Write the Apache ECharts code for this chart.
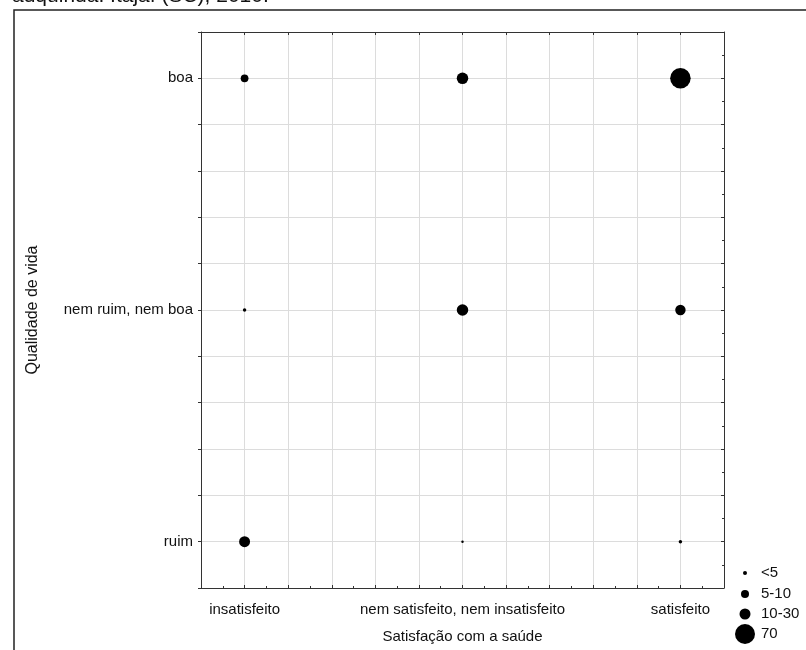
<!DOCTYPE html>
<html>
<head>
<meta charset="utf-8">
<script src="https://cdn.jsdelivr.net/npm/echarts@6/dist/echarts.min.js"></script>
<style>
html,body{margin:0;padding:0;background:#fff;}
#chart{width:806px;height:650px;}
</style>
</head>
<body>
<div id="chart"></div>
<script>
// Data
var xCategories = ['insatisfeito', 'nem satisfeito, nem insatisfeito', 'satisfeito'];
var yCategories = ['ruim', 'nem ruim, nem boa', 'boa'];
// counts per cell: rows = yCategories (ruim, nem, boa), cols = xCategories
var countsRuim = [20, 1, 2];
var countsNem = [2, 22, 18];
var countsBoa = [10, 22, 70];
var sizeClasses = ['<5', '5-10', '10-30', '70'];
var legendSizes = [4, 8, 11, 20];
var titleText = 'adquirida. Itajaí (SC), 2010.';

var FONT = 'Liberation Sans, Arial, sans-serif';
var FS = 15;
var rows = [countsRuim, countsNem, countsBoa];

function classOf(v) {
  if (v < 5) return 0;
  if (v <= 10) return 1;
  if (v <= 30) return 2;
  return 3;
}
var seriesData = [[], [], [], []];
rows.forEach(function (row, yi) {
  row.forEach(function (v, xi) {
    seriesData[classOf(v)].push([xi, yi, v]);
  });
});

function isInt(v) { return Math.abs(v - Math.round(v)) < 1e-6; }

var series = sizeClasses.map(function (name, i) {
  return {
    name: name,
    type: 'scatter',
    xAxisIndex: 0, yAxisIndex: 0,
    data: seriesData[i],
    symbol: 'circle',
    symbolSize: function (d) { return 2.45 * Math.sqrt(d[2]); },
    itemStyle: { color: '#000', opacity: 1 },
    emphasis: { disabled: true },
    z: 5
  };
});

var legendCenters = [573, 594, 614, 634];
var LEG_CX = 745, LEG_TX = 761, LH = 16;
var legends = sizeClasses.map(function (name, i) {
  var s = legendSizes[i];
  var h = Math.max(s, LH);
  return {
    data: [name],
    orient: 'vertical',
    left: LEG_CX - s / 2,
    top: legendCenters[i] - h / 2,
    padding: 0,
    itemWidth: s,
    itemHeight: s,
    icon: 'circle',
    selectedMode: false,
    itemStyle: { color: '#000' },
    textStyle: {
      fontFamily: FONT, fontSize: FS, color: '#111', lineHeight: LH,
      padding: [0, 0, 0, Math.max(0, LEG_TX - (LEG_CX + s / 2 + 5))]
    }
  };
});

var gridLine = { show: true, lineStyle: { color: '#dcdcdc', width: 1 } };
var axisLine = { show: true, onZero: false, lineStyle: { color: '#333', width: 1 } };

var option = {
  animation: false,
  backgroundColor: '#fff',
  title: {
    text: titleText,
    left: 12,
    top: -14,
    padding: 0,
    textStyle: { fontFamily: FONT, fontSize: 21, fontWeight: 'normal', color: '#111' }
  },
  graphic: [{
    type: 'rect',
    shape: { x: 14, y: 10, width: 820, height: 700 },
    style: { fill: 'none', stroke: '#222', lineWidth: 1.5 },
    silent: true
  }],
  legend: legends,
  grid: { left: 201, right: 82, top: 32, bottom: 62 },
  xAxis: [{
    type: 'value', min: -0.2, max: 2.2, interval: 0.2,
    position: 'bottom',
    name: 'Satisfação com a saúde', nameLocation: 'middle', nameGap: 41,
    nameTextStyle: { fontFamily: FONT, fontSize: FS, color: '#111' },
    axisLine: axisLine,
    axisTick: { show: true, inside: true, length: 3, lineStyle: { color: '#333' } },
    minorTick: { show: true, splitNumber: 2, length: 2, lineStyle: { color: '#333' } },
    splitLine: gridLine,
    axisLabel: {
      margin: 14, fontFamily: FONT, fontSize: FS, color: '#111',
      formatter: function (v) { return isInt(v) ? xCategories[Math.round(v)] : ''; }
    }
  }, {
    type: 'value', min: -0.2, max: 2.2, interval: 0.2,
    position: 'top',
    axisLine: axisLine,
    axisTick: { show: true, inside: true, length: 3, lineStyle: { color: '#333' } },
    splitLine: { show: false },
    axisLabel: { show: false }
  }],
  yAxis: [{
    type: 'value', min: -0.2, max: 2.2, interval: 0.2,
    position: 'left',
    name: 'Qualidade de vida', nameLocation: 'middle', nameGap: 160, nameRotate: 90,
    nameTextStyle: { fontFamily: FONT, fontSize: 16, color: '#111' },
    axisLine: axisLine,
    axisTick: { show: true, inside: false, length: 3, lineStyle: { color: '#333' } },
    splitLine: gridLine,
    axisLabel: {
      margin: 8, fontFamily: FONT, fontSize: FS, color: '#111',
      formatter: function (v) { return isInt(v) ? yCategories[Math.round(v)] : ''; }
    }
  }, {
    type: 'value', min: -0.2, max: 2.2, interval: 0.2,
    position: 'right',
    axisLine: axisLine,
    axisTick: { show: true, inside: true, length: 3, lineStyle: { color: '#333' } },
    minorTick: { show: true, splitNumber: 2, length: 2, lineStyle: { color: '#333' } },
    splitLine: { show: false },
    axisLabel: { show: false }
  }],
  series: series
};

var chart = echarts.init(document.getElementById('chart'), null, { renderer: 'canvas' });
chart.setOption(option);
</script>
</body>
</html>
